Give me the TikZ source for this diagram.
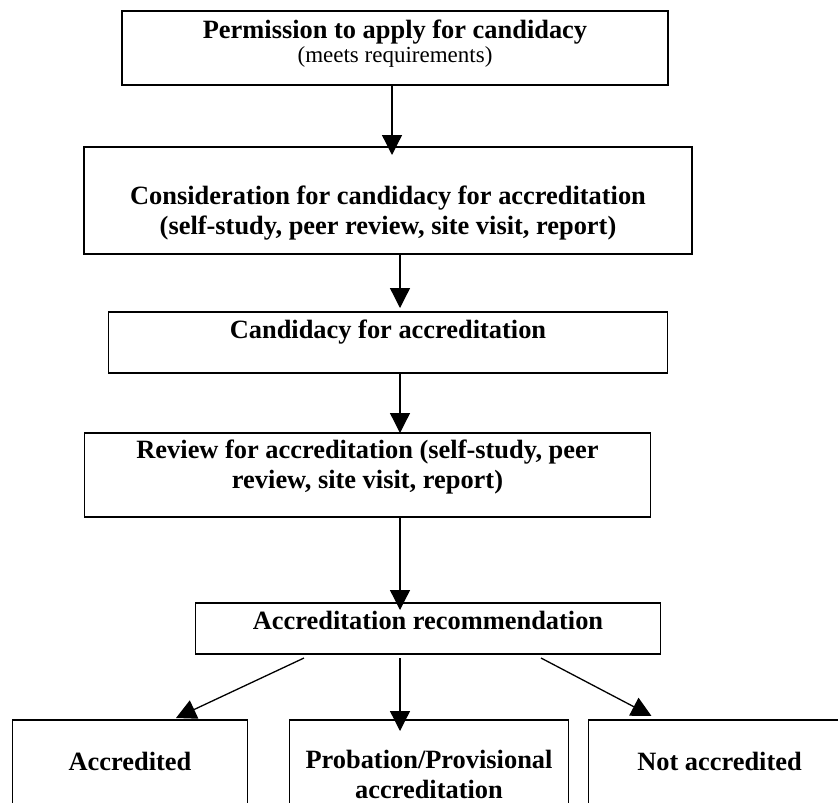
\documentclass[tikz,border=0pt]{standalone}
\usepackage{fontspec}
\setmainfont{Liberation Serif}
\usepackage{tikz}
\usetikzlibrary{arrows.meta,positioning}
\tikzset{
  box/.style={draw=black,line width=1.3pt,align=center,inner xsep=0pt,inner ysep=0pt,
              outer sep=0pt,font=\bfseries\fontsize{26.4}{30}\selectfont},
  flow/.style={-{Triangle[width=20pt,length=20pt]},line width=1.3pt,draw=black}
}

\begin{document}
\begin{tikzpicture}[x=1pt,y=-1pt,node distance=62pt and 42pt]
  \clip (0,0) rectangle (838,803);
  \node[box,anchor=north,minimum width=546pt,text height=51pt,text depth=23pt] (permit) at (395,11)
    {Permission to apply for candidacy\\[-6pt]{\mdseries\fontsize{23}{24}\selectfont (meets requirements)}};
  \node[box,below=of permit,xshift=-7pt,minimum width=608pt,text height=87pt,text depth=20pt] (consider)
    {Consideration for candidacy for accreditation\\(self-study, peer review, site visit, report)};
  \node[box,below=58pt of consider,minimum width=559pt,text height=26pt,text depth=35pt] (candid)
    {Candidacy for accreditation};
  \node[box,below=60pt of candid,xshift=-20.5pt,minimum width=566pt,text height=55pt,text depth=29pt] (review)
    {Review for accreditation (self-study, peer\\review, site visit, report)};
  \node[box,below=86pt of review,xshift=60.5pt,minimum width=465pt,text height=26pt,text depth=25pt] (recommend)
    {Accreditation recommendation};
  \node[box,below=66pt of recommend,xshift=1pt,minimum width=279pt,text height=78pt,text depth=32pt] (provis)
    {Probation/Provisional\\accreditation};
  \node[box,left=of provis,minimum width=235pt,text height=50pt,text depth=60pt] (accred) {Accredited};
  \node[box,right=20pt of provis,minimum width=262pt,text height=50pt,text depth=60pt] (notacc) {Not accredited};

  \coordinate (spine) at (400,0);
  \draw[flow,shorten >=-8pt] ([xshift=-3pt]permit.south) -- ([xshift=-3pt]permit.south |- consider.north);
  \draw[flow,shorten >=4pt] (consider.south -| spine) -- (candid.north -| spine);
  \draw[flow] (candid.south -| spine) -- (review.north -| spine);
  \draw[flow,shorten >=-7pt] (review.south -| spine) -- (recommend.north -| spine);
  \draw[flow,shorten <=4pt,shorten >=-11pt] (recommend.south -| spine) -- (provis.north -| spine);
  \draw[flow] ([xshift=-124pt,yshift=-4pt]recommend.south) -- ([xshift=46pt,yshift=2pt]accred.north);
  \draw[flow] ([xshift=113pt,yshift=-4pt]recommend.south) -- ([xshift=-68pt,yshift=4pt]notacc.north);
\end{tikzpicture}
\end{document}
